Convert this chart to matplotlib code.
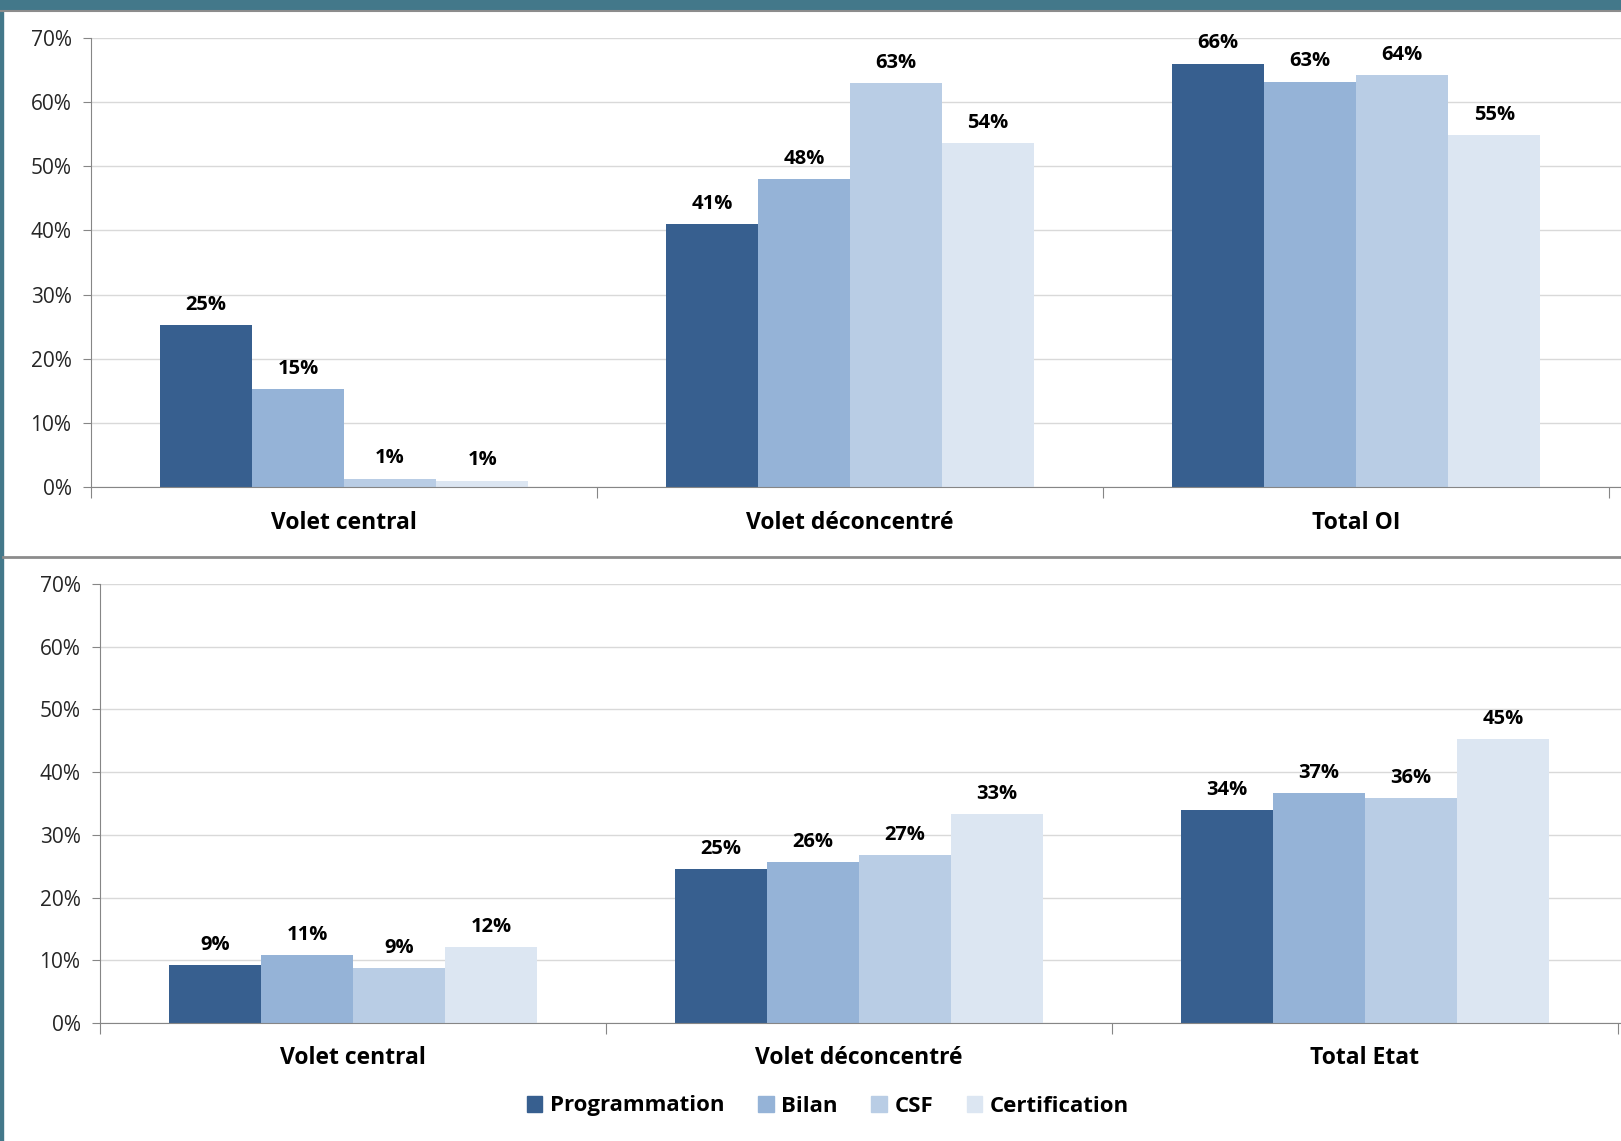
import numpy as np
import matplotlib.pyplot as plt
from matplotlib.patches import Rectangle
from matplotlib.lines import Line2D

plt.rcParams['font.family'] = ['Open Sans', 'DejaVu Sans']

series = ['Programmation', 'Bilan', 'CSF', 'Certification']
colors = ['#375F8F', '#95B3D7', '#B9CDE5', '#DCE6F2']

top_cats = ['Volet central', 'Volet déconcentré', 'Total OI']
top_vals = [[25.2, 41.0, 66.0],   # Programmation
            [15.3, 48.0, 63.2],   # Bilan
            [1.3, 63.0, 64.2],    # CSF
            [1.0, 53.6, 54.8]]    # Certification

bot_cats = ['Volet central', 'Volet déconcentré', 'Total Etat']
bot_vals = [[9.2, 24.6, 33.9],
            [10.9, 25.6, 36.7],
            [8.8, 26.8, 35.8],
            [12.1, 33.3, 45.3]]

yticks = [0, 10, 20, 30, 40, 50, 60, 70]

W, H = 1621, 1141
fig = plt.figure(figsize=(W / 100, H / 100), dpi=100)

# frame: teal header band, left strip, separator
fig.patches.append(Rectangle((0, 1 - 10 / H), 1, 10 / H, transform=fig.transFigure,
                             color='#43788A', zorder=0))
fig.patches.append(Rectangle((0, 0), 3 / W, 1, transform=fig.transFigure,
                             color='#43788A', zorder=0))
fig.lines.append(Line2D([0, 1], [1 - 11 / H, 1 - 11 / H], transform=fig.transFigure,
                        color='#8C8C8C', lw=1.5))
fig.lines.append(Line2D([3 / W, 1], [1 - 557 / H, 1 - 557 / H], transform=fig.transFigure,
                        color='#8C8C8C', lw=2))


def panel(left, top_px, zero_px, group_w, cats, vals):
    ax = fig.add_axes([left / W, 1 - zero_px / H, (W - left) / W, (zero_px - top_px) / H])
    right = -0.5 + (W - left) / group_w
    x = np.arange(len(cats))
    bw = 0.182
    for i, (s, c) in enumerate(zip(series, colors)):
        pos = x + (i - 1.5) * bw
        ax.bar(pos, vals[i], width=bw, color=c, zorder=2)
        for p, v in zip(pos, vals[i]):
            ax.text(p, v + 1.6, f'{round(v):.0f}%', ha='center', va='bottom',
                    fontsize=14.5, fontweight='bold', color='black')
    ax.set_xlim(-0.5, right)
    ax.set_ylim(0, 70)
    ax.set_yticks(yticks)
    ax.set_yticklabels([f'{t}%' for t in yticks], fontsize=15, color='#262626')
    ax.yaxis.grid(True, color='#D9D9D9', lw=1, zorder=0)
    ax.set_xticks([-0.5, 0.5, 1.5, 2.5])
    ax.set_xticklabels([])
    for i, c in enumerate(cats):
        ax.text(i, -5.6, c, ha='center', va='center', fontsize=16.5, fontweight='bold',
                transform=ax.transData)
    ax.tick_params(axis='x', length=8, color='#868686', direction='out')
    ax.tick_params(axis='y', length=6, color='#868686', direction='out', pad=8)
    for s in ['top', 'right']:
        ax.spines[s].set_visible(False)
    for s in ['left', 'bottom']:
        ax.spines[s].set_color('#868686')
    return ax


panel(91, 38, 487, 506, top_cats, top_vals)
panel(100, 584, 1023, 506, bot_cats, bot_vals)

handles = [Rectangle((0, 0), 1, 1, color=c) for c in colors]
fig.legend(handles, series, loc='center', bbox_to_anchor=(828 / W, 1 - 1106 / H),
           ncol=4, frameon=False, handlelength=0.7, handleheight=0.7,
           handletextpad=0.35, columnspacing=1.5,
           prop={'size': 16, 'weight': 'bold'})

fig.savefig('out.png', dpi=100, facecolor='white')
